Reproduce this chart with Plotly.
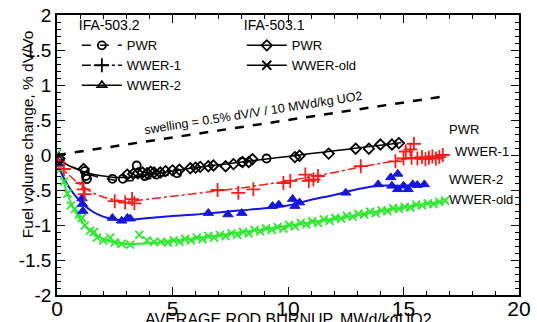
import plotly.graph_objects as go

# ---------------- data ----------------
# IFA-503.2 PWR (open circles)
pwr2_x = [0.05, 1.2, 1.25, 1.3, 2.4, 2.85, 3.45, 3.8, 4.3, 5.2, 8.0, 9.07]
pwr2_y = [-0.08, -0.23, -0.3, -0.34, -0.34, -0.34, -0.15, -0.3, -0.28, -0.26, -0.1, -0.05]
# IFA-503.1 PWR (diamonds)
pwr1_x = [0.1, 1.15, 3.04, 3.3, 3.5, 3.7, 3.9, 4.05, 4.2, 4.47, 4.7, 5.0, 5.3, 5.77, 6.0, 6.2, 6.55, 6.77,
          7.3, 7.64, 8.03, 8.3, 8.46, 10.3, 10.5, 11.76, 12.93, 13.5, 14.0, 14.5, 14.8]
pwr1_y = [-0.05, -0.2, -0.28, -0.27, -0.26, -0.25, -0.26, -0.24, -0.25, -0.25, -0.23, -0.22, -0.21, -0.19, -0.18,
          -0.17, -0.16, -0.15, -0.16, -0.13, -0.1, -0.1, -0.06, -0.03, -0.01, 0.02, 0.09, 0.09, 0.15, 0.15, 0.17]
# WWER-1 (red +)
w1_x = [0.05, 0.3, 1.1, 1.15, 1.2, 2.5, 2.95, 3.25, 3.35, 6.95, 7.85, 8.5, 9.8, 10.1, 10.75, 10.9, 11.1, 11.3,
        13.15, 14.65, 15.0, 15.1, 15.3, 15.45, 15.35, 15.6, 15.8, 15.95, 16.1, 16.25, 16.4, 16.55, 16.7]
w1_y = [-0.08, -0.2, -0.4, -0.49, -0.56, -0.66, -0.68, -0.63, -0.69, -0.5, -0.54, -0.49, -0.4, -0.37, -0.28,
        -0.37, -0.35, -0.3, -0.16, -0.09, -0.05, 0.05, 0.08, 0.16, -0.04, -0.05, -0.03, -0.06, -0.04, -0.02,
        -0.05, -0.03, 0.0]
# WWER-2 (blue triangles)
w2_x = [0.05, 1.08, 1.1, 1.12, 2.4, 2.8, 3.05, 3.17, 6.55, 7.4, 8.0, 9.33, 9.6, 10.2, 10.3, 10.5, 12.5, 13.9,
        14.45, 14.75, 14.5, 14.75, 15.0, 15.2, 15.4, 15.6, 15.9]
w2_y = [-0.12, -0.62, -0.7, -0.8, -0.9, -0.94, -0.9, -0.91, -0.83, -0.85, -0.83, -0.73, -0.71, -0.63, -0.73,
        -0.68, -0.54, -0.42, -0.32, -0.27, -0.44, -0.49, -0.44, -0.49, -0.42, -0.43, -0.42]
# WWER-old (green x)
wo_x = [0.0, 0.15, 0.3, 0.45, 0.6, 0.78, 0.95, 1.08, 1.2, 1.43, 1.6, 1.73, 2.0, 2.3, 2.5, 2.8, 3.17, 3.56, 3.9,
        4.2, 4.5, 4.8, 5.05, 5.3, 5.55, 5.8, 6.05, 6.3, 6.55, 6.8, 7.05, 7.3, 7.55, 7.8, 8.05, 8.3, 8.55, 8.8,
        9.05, 9.3, 9.55, 9.8, 10.05, 10.3, 10.55, 10.8, 11.05, 11.3, 11.55, 11.8, 12.05, 12.3, 12.55, 12.8,
        13.05, 13.3, 13.55, 13.8, 14.05, 14.3, 14.55, 14.8, 15.05, 15.3, 15.55, 15.8, 16.05, 16.3, 16.55, 16.8]
wo_y = [0.02, -0.2, -0.38, -0.55, -0.72, -0.77, -0.85, -0.9, -1.01, -1.08, -1.1, -1.18, -1.22, -1.18, -1.25,
        -1.27, -1.28, -1.14, -1.22, -1.24, -1.24, -1.25, -1.22, -1.24, -1.2, -1.22, -1.18, -1.2, -1.16, -1.18,
        -1.14, -1.16, -1.12, -1.14, -1.1, -1.12, -1.07, -1.09, -1.05, -1.07, -1.03, -1.05, -1.0, -1.02, -0.97,
        -0.99, -0.95, -0.97, -0.92, -0.94, -0.9, -0.91, -0.87, -0.88, -0.84, -0.85, -0.81, -0.83, -0.79, -0.8,
        -0.76, -0.77, -0.74, -0.75, -0.71, -0.72, -0.69, -0.7, -0.67, -0.65]

# fitted curves
pwr1_fit_x = [0, 0.5, 1, 1.5, 2, 2.5, 3, 4, 5, 6, 7, 8, 9, 10, 11, 12, 13, 14, 14.9]
pwr1_fit_y = [-0.05, -0.15, -0.22, -0.27, -0.3, -0.32, -0.32, -0.28, -0.23, -0.18, -0.14, -0.1, -0.06, -0.02,
              0.02, 0.06, 0.1, 0.14, 0.18]
pwr2_fit_x = [0, 0.5, 1, 1.5, 2, 2.5, 3, 3.5, 4, 4.5, 5]
pwr2_fit_y = [-0.05, -0.14, -0.22, -0.29, -0.33, -0.36, -0.37, -0.36, -0.34, -0.31, -0.27]
w1_fit_x = [0, 0.5, 1, 1.5, 2, 2.5, 3, 4, 5, 6, 7, 8, 9, 10, 11, 12, 13, 14, 15, 15.6]
w1_fit_y = [-0.1, -0.28, -0.42, -0.53, -0.6, -0.64, -0.66, -0.63, -0.59, -0.55, -0.51, -0.47, -0.42, -0.37,
            -0.31, -0.25, -0.18, -0.12, -0.06, -0.03]
w2_fit_x = [0, 0.5, 1, 1.5, 2, 2.5, 3, 4, 5, 6, 7, 8, 9, 10, 11, 12, 13, 13.9, 15, 15.9]
w2_fit_y = [-0.12, -0.45, -0.66, -0.8, -0.88, -0.92, -0.93, -0.9, -0.87, -0.85, -0.82, -0.79, -0.76, -0.72,
            -0.64, -0.57, -0.49, -0.44, -0.44, -0.43]
wo_fit_x = [0, 0.5, 1, 1.5, 2, 2.5, 3, 4, 5, 6, 7, 8, 9, 10, 11, 12, 13, 14, 15, 16, 16.8]
wo_fit_y = [0, -0.6, -0.92, -1.1, -1.2, -1.25, -1.27, -1.26, -1.23, -1.19, -1.15, -1.1, -1.06, -1.01, -0.96,
            -0.91, -0.86, -0.8, -0.75, -0.7, -0.66]
swell_x = [0, 16.8]
swell_y = [0, 0.84]

x_ticks = [0, 5, 10, 15, 20]
x_ticktext = ["0", "5", "10", "15", "20"]
y_ticks = [-2, -1.5, -1, -0.5, 0, 0.5, 1, 1.5, 2]
y_ticktext = ["-2", "-1.5", "-1", "-.5", "0", ".5", "1", "1.5", "2"]

series_labels = ["PWR", "WWER-1", "WWER-2", "WWER-old"]
label_x = [16.9, 17.15, 16.9, 16.9]
label_y = [0.36, 0.05, -0.35, -0.64]

BLACK = "#000000"
RED = "#ff1a1a"
BLUE = "#1414e6"
GREEN = "#2eea2e"
FONT = "Liberation Sans, Arial, sans-serif"

fig = go.Figure()

# swelling line
fig.add_trace(go.Scatter(x=swell_x, y=swell_y, mode="lines", showlegend=False,
                         line=dict(color=BLACK, width=2.5, dash="dash")))

# fits
fig.add_trace(go.Scatter(x=wo_fit_x, y=wo_fit_y, mode="lines", line_shape="spline", showlegend=False,
                         line=dict(color=GREEN, width=2)))
fig.add_trace(go.Scatter(x=w2_fit_x, y=w2_fit_y, mode="lines", line_shape="spline", showlegend=False,
                         line=dict(color=BLUE, width=2)))
fig.add_trace(go.Scatter(x=w1_fit_x, y=w1_fit_y, mode="lines", line_shape="spline", showlegend=False,
                         line=dict(color=RED, width=1.5, dash="dashdot")))
fig.add_trace(go.Scatter(x=pwr2_fit_x, y=pwr2_fit_y, mode="lines", line_shape="spline", showlegend=False,
                         line=dict(color=BLACK, width=1.5, dash="dash")))
fig.add_trace(go.Scatter(x=pwr1_fit_x, y=pwr1_fit_y, mode="lines", line_shape="spline", showlegend=False,
                         line=dict(color=BLACK, width=1.5)))

# markers
fig.add_trace(go.Scatter(x=wo_x, y=wo_y, mode="markers", showlegend=False,
                         marker=dict(symbol="x-thin-open", size=8, color=GREEN, line=dict(color=GREEN, width=1.8))))
fig.add_trace(go.Scatter(x=w2_x, y=w2_y, mode="markers", showlegend=False,
                         marker=dict(symbol="triangle-up", size=9, color=BLUE, line=dict(color=BLUE, width=1))))
fig.add_trace(go.Scatter(x=w1_x, y=w1_y, mode="markers", showlegend=False,
                         marker=dict(symbol="cross-thin-open", size=10, color=RED, line=dict(color=RED, width=1.8))))
fig.add_trace(go.Scatter(x=pwr2_x, y=pwr2_y, mode="markers", showlegend=False,
                         marker=dict(symbol="circle-open", size=8, color=BLACK, line=dict(color=BLACK, width=1.8))))
fig.add_trace(go.Scatter(x=pwr1_x, y=pwr1_y, mode="markers", showlegend=False,
                         marker=dict(symbol="diamond-open", size=8, color=BLACK, line=dict(color=BLACK, width=1.8))))

# legend entries (black symbols as in the original key)
fig.add_trace(go.Scatter(x=[None], y=[None], name="PWR", mode="lines+markers", legend="legend",
                         line=dict(color=BLACK, width=1.5, dash="dash"),
                         marker=dict(symbol="circle-open", size=8, color=BLACK, line=dict(color=BLACK, width=1.8))))
fig.add_trace(go.Scatter(x=[None], y=[None], name="WWER-1", mode="lines+markers", legend="legend",
                         line=dict(color=BLACK, width=1.5, dash="dashdot"),
                         marker=dict(symbol="cross-thin-open", size=10, color=BLACK, line=dict(color=BLACK, width=1.8))))
fig.add_trace(go.Scatter(x=[None], y=[None], name="WWER-2", mode="lines+markers", legend="legend",
                         line=dict(color=BLACK, width=1.5),
                         marker=dict(symbol="triangle-up-open", size=8, color=BLACK, line=dict(color=BLACK, width=1.8))))
fig.add_trace(go.Scatter(x=[None], y=[None], name="PWR", mode="lines+markers", legend="legend2",
                         line=dict(color=BLACK, width=1.5),
                         marker=dict(symbol="diamond-open", size=8, color=BLACK, line=dict(color=BLACK, width=1.8))))
fig.add_trace(go.Scatter(x=[None], y=[None], name="WWER-old", mode="lines+markers", legend="legend2",
                         line=dict(color=BLACK, width=1.5),
                         marker=dict(symbol="x-thin-open", size=9, color=BLACK, line=dict(color=BLACK, width=1.8))))

annotations = []
for t, lx, ly in zip(series_labels, label_x, label_y):
    annotations.append(dict(x=lx, y=ly, text=t, showarrow=False, xanchor="left", yanchor="middle",
                            font=dict(family=FONT, size=13, color=BLACK)))
annotations.append(dict(x=8.5, y=0.6, text="swelling = 0.5% dV/V / 10 MWd/kg UO2", showarrow=False,
                        textangle=-9, font=dict(family=FONT, size=12.5, color=BLACK)))
annotations.append(dict(x=0.5, xref="paper", y=-0.05, yref="paper", yanchor="top",
                        text="AVERAGE ROD BURNUP, MWd/kgUO2", showarrow=False,
                        font=dict(family=FONT, size=16, color=BLACK)))
annotations.append(dict(x=-0.0866, xref="paper", y=0.576, yref="paper", textangle=-90,
                        text="Fuel volume change, % dV/Vo", showarrow=False,
                        font=dict(family=FONT, size=15.5, color=BLACK)))

legend_common = dict(bgcolor="rgba(0,0,0,0)", borderwidth=0, font=dict(family=FONT, size=13, color=BLACK),
                     yanchor="top", xanchor="left", tracegroupgap=0, itemwidth=40)

fig.update_layout(
    width=537, height=322,
    margin=dict(l=57, r=18, t=12, b=27),
    paper_bgcolor="white", plot_bgcolor="white",
    font=dict(family=FONT, color=BLACK),
    legend=dict(x=0.043, y=1.01, title=dict(text="IFA-503.2", font=dict(family=FONT, size=14)), **legend_common),
    legend2=dict(x=0.40, y=1.01, title=dict(text="IFA-503.1", font=dict(family=FONT, size=14)), **legend_common),
    annotations=annotations,
)
fig.update_xaxes(range=[0, 20], tickvals=x_ticks, ticktext=x_ticktext, showgrid=False, zeroline=False,
                 showline=True, linecolor=BLACK, linewidth=1.5, mirror="ticks", ticks="inside", ticklen=8,
                 tickwidth=1.2, tickcolor=BLACK, tickfont=dict(family=FONT, size=21, color=BLACK),
                 ticklabelstandoff=-6,
                 minor=dict(dtick=1, ticks="inside", ticklen=4, tickcolor=BLACK, tickwidth=1),
                 automargin=False)
fig.update_yaxes(range=[-2, 2], tickvals=y_ticks, ticktext=y_ticktext, showgrid=False, zeroline=False,
                 showline=True, linecolor=BLACK, linewidth=1.5, mirror="ticks", ticks="inside", ticklen=8,
                 tickwidth=1.2, tickcolor=BLACK, tickfont=dict(family=FONT, size=19, color=BLACK),
                 minor=dict(dtick=0.1, ticks="inside", ticklen=4, tickcolor=BLACK, tickwidth=1),
                 automargin=False)

fig.write_html("out.html")
